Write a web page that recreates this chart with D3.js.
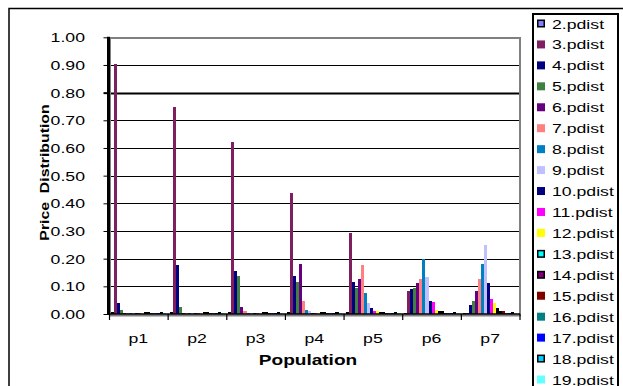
<!DOCTYPE html>
<html>
<head>
<meta charset="utf-8">
<script src="https://cdn.jsdelivr.net/npm/d3@7"></script>
<style>
  html, body { margin: 0; padding: 0; background: #fff; }
  svg { display: block; font-family: "Liberation Sans", Arial, sans-serif; }
  .pre { white-space: pre; }
</style>
</head>
<body>
<svg id="chart" width="623" height="386"></svg>
<script>
// Populations along the x axis
const categories = ["p1", "p2", "p3", "p4", "p5", "p6", "p7"];

// Price-distribution series, one value per population
const seriesNames = ["2.pdist", "3.pdist", "4.pdist", "5.pdist", "6.pdist", "7.pdist",
  "8.pdist", "9.pdist", "10.pdist", "11.pdist", "12.pdist", "13.pdist", "14.pdist",
  "15.pdist", "16.pdist", "17.pdist", "18.pdist", "19.pdist"];

const pdist2  = [0.008, 0.008, 0.008, 0.008, 0.008, 0.002, 0.002];
const pdist3  = [0.905, 0.747, 0.622, 0.438, 0.293, 0.084, 0.005];
const pdist4  = [0.038, 0.178, 0.157, 0.139, 0.117, 0.092, 0.034];
const pdist5  = [0.013, 0.025, 0.139, 0.117, 0.095, 0.095, 0.048];
const pdist6  = [0.004, 0.004, 0.027, 0.182, 0.128, 0.113, 0.084];
const pdist7  = [0.004, 0.005, 0.012, 0.048, 0.178, 0.128, 0.128];
const pdist8  = [0.003, 0.004, 0.004, 0.016, 0.077, 0.200, 0.182];
const pdist9  = [0.002, 0.003, 0.004, 0.012, 0.038, 0.135, 0.250];
const pdist10 = [0.004, 0.004, 0.004, 0.005, 0.023, 0.048, 0.113];
const pdist11 = [0.005, 0.005, 0.004, 0.004, 0.012, 0.045, 0.056];
const pdist12 = [0.002, 0.003, 0.004, 0.004, 0.010, 0.016, 0.038];
const pdist13 = [0.008, 0.008, 0.008, 0.008, 0.008, 0.012, 0.023];
const pdist14 = [0.008, 0.008, 0.008, 0.008, 0.008, 0.012, 0.012];
const pdist15 = [0.004, 0.004, 0.004, 0.004, 0.004, 0.005, 0.012];
const pdist16 = [0.004, 0.004, 0.004, 0.004, 0.004, 0.004, 0.004];
const pdist17 = [0.004, 0.004, 0.004, 0.004, 0.004, 0.004, 0.004];
const pdist18 = [0.008, 0.008, 0.008, 0.008, 0.008, 0.008, 0.008];
const pdist19 = [0.004, 0.004, 0.004, 0.004, 0.004, 0.003, 0.003];

const seriesValues = [pdist2, pdist3, pdist4, pdist5, pdist6, pdist7, pdist8, pdist9,
  pdist10, pdist11, pdist12, pdist13, pdist14, pdist15, pdist16, pdist17, pdist18, pdist19];

// Y tick labels
const yTicks = [0, 0.1, 0.2, 0.3, 0.4, 0.5, 0.6, 0.7, 0.8, 0.9, 1.0];

// Series fills; outlined series get a black border (their thin bars read as black)
const fills = ["#8080FF", "#7F1F5F", "#000080", "#408040", "#660080", "#FF8080",
  "#0080C0", "#C0C0FF", "#000080", "#FF00FF", "#FFFF00", "#00FFFF", "#800080",
  "#800000", "#008080", "#0000FF", "#00CCFF", "#66FFFF"];
const outlined = new Set(["2.pdist", "13.pdist", "14.pdist", "18.pdist"]);

const SX = 1.36; // horizontal stretch of the chart lettering

const svg = d3.select("#chart");
const plot = { left: 109, right: 520, top: 37.3, bottom: 314 };

// Outer chart frame
svg.append("rect")
  .attr("x", 9).attr("y", 8.5).attr("width", 800).attr("height", 600)
  .attr("fill", "none").attr("stroke", "#000").attr("stroke-width", 1.5);

const x = d3.scaleBand().domain(categories).range([plot.left, plot.right - 0.5])
  .paddingInner(0).paddingOuter(0);
const xs = d3.scaleBand().domain(seriesNames).range([0, x.bandwidth()])
  .paddingInner(0).paddingOuter(0.66);
const y = d3.scaleLinear().domain([0, 1]).range([plot.bottom, plot.top]);

// Horizontal gridlines
svg.append("g").selectAll("line")
  .data(yTicks.filter(d => d > 0 && d < 1))
  .join("line")
  .attr("x1", plot.left).attr("x2", plot.right)
  .attr("y1", d => Math.round(y(d)) + 0.5).attr("y2", d => Math.round(y(d)) + 0.5)
  .attr("stroke", "#000")
  .attr("stroke-width", d => Math.abs(d - 0.8) < 1e-9 ? 2 : 1);

// Plot-area border
svg.append("rect")
  .attr("x", plot.left + 1).attr("y", 38)
  .attr("width", plot.right - plot.left - 1).attr("height", 315.5 - 38)
  .attr("fill", "none").attr("stroke", "#808080").attr("stroke-width", 2);

// Bars
const groups = svg.append("g").attr("shape-rendering", "crispEdges")
  .selectAll("g")
  .data(seriesNames.map((name, i) => ({ name, fill: fills[i], values: seriesValues[i] })))
  .join("g")
  .attr("fill", d => outlined.has(d.name) ? "#000" : d.fill);

groups.selectAll("rect")
  .data(d => d.values.map((v, j) => ({ name: d.name, cat: categories[j], v })))
  .join("rect")
  .attr("x", d => x(d.cat) + xs(d.name))
  .attr("width", xs.bandwidth())
  .attr("y", d => y(d.v))
  .attr("height", d => y(0) - y(d.v));

// Y axis
const yAxis = svg.append("g")
  .attr("transform", `translate(${plot.left - 0.5},0)`)
  .call(d3.axisLeft(y).tickValues(yTicks).tickSize(5).tickFormat(d3.format(".2f")));
yAxis.select(".domain").attr("stroke", "#000").attr("stroke-width", 3)
  .attr("d", `M0,${plot.top - 0.5}V${plot.bottom + 1}`);
yAxis.selectAll(".tick line").attr("stroke", "#000").attr("x1", -1.5)
  .attr("stroke-width", d => Math.abs(d - 0.8) < 1e-9 ? 2 : 1);
yAxis.selectAll(".tick text")
  .attr("x", -23.5 / SX).attr("dy", "0.34em")
  .attr("transform", `scale(${SX},1)`)
  .attr("fill", "#000").attr("font-size", 13)
  .attr("font-family", "Liberation Sans, Arial, sans-serif");

// X axis: baseline, category boundary ticks and labels
const xEdges = d3.scaleLinear().domain([0, categories.length]).range([plot.left, plot.right - 0.5]);
const xAxis = svg.append("g").attr("transform", `translate(0,${plot.bottom})`)
  .call(d3.axisBottom(xEdges).tickValues(d3.range(categories.length + 1))
    .tickSize(6).tickFormat(""));
xAxis.select(".domain").attr("stroke", "#000").attr("stroke-width", 1.5)
  .attr("d", `M${plot.left},0H${plot.right}`);
xAxis.selectAll(".tick line").attr("stroke", "#000").attr("stroke-width", 1.2);

const xLabels = svg.append("g")
  .call(d3.axisBottom(x).tickSize(0));
xLabels.select(".domain").remove();
xLabels.selectAll(".tick text")
  .attr("y", 0).attr("dy", 29.5)
  .attr("fill", "#000").attr("font-size", 13)
  .attr("font-family", "Liberation Sans, Arial, sans-serif");
// keep label centres on the category centres after stretching
xLabels.selectAll(".tick").each(function (d) {
  const cx = x(d) + x.bandwidth() / 2;
  d3.select(this).attr("transform", `translate(${cx / SX},0)`);
});
xLabels.attr("transform", `translate(0,${plot.bottom}) scale(${SX},1)`);

// Axis titles
svg.append("text")
  .attr("transform", `translate(308,365) scale(${SX},1)`)
  .attr("text-anchor", "middle")
  .attr("font-size", 14).attr("font-weight", "bold")
  .text("Population");

svg.append("text")
  .attr("class", "pre")
  .attr("transform", "translate(45,172.5) rotate(-90) scale(1.32,1)")
  .attr("text-anchor", "middle").attr("dy", 4.4)
  .attr("font-size", 12).attr("font-weight", "bold")
  .text("Price  Distribution");

// Legend
const legend = svg.append("g");
legend.append("rect")
  .attr("x", 533).attr("y", 14).attr("width", 85).attr("height", 420)
  .attr("fill", "#fff").attr("stroke", "#000").attr("stroke-width", 2);

const legendY = d3.scalePoint().domain(seriesNames).range([23.5, 379.5]);
const items = legend.selectAll("g.item")
  .data(seriesNames.map((name, i) => ({ name, fill: fills[i] })))
  .join("g").attr("class", "item")
  .attr("transform", d => `translate(0,${legendY(d.name)})`);

items.append("rect")
  .attr("x", d => outlined.has(d.name) ? 537.75 : 537)
  .attr("y", d => outlined.has(d.name) ? -3.25 : -4)
  .attr("width", d => outlined.has(d.name) ? 6.5 : 8)
  .attr("height", d => outlined.has(d.name) ? 6.5 : 8)
  .attr("fill", d => d.fill)
  .attr("stroke", d => outlined.has(d.name) ? "#000" : "none")
  .attr("stroke-width", 1.5);

items.append("text")
  .attr("transform", `translate(552,5) scale(${SX},1)`)
  .attr("font-size", 13).attr("fill", "#000")
  .text(d => d.name);
</script>
</body>
</html>
